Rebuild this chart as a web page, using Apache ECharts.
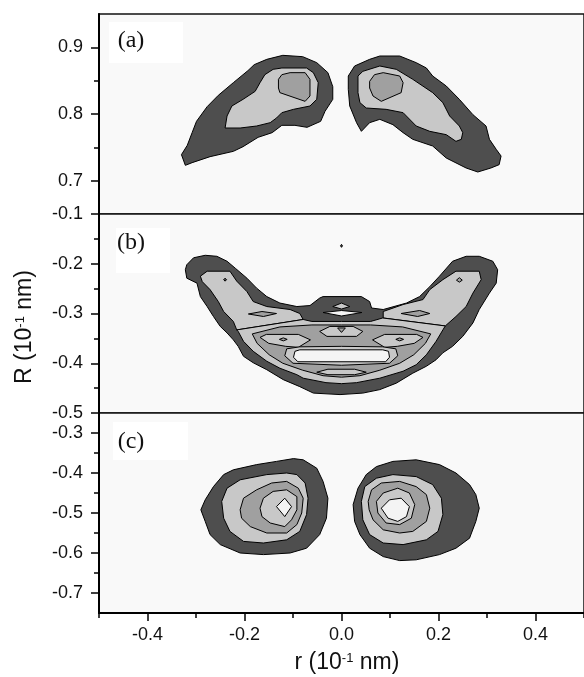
<!DOCTYPE html>
<html>
<head>
<meta charset="utf-8">
<title>Contour panels (a)(b)(c)</title>
<script src="https://cdn.jsdelivr.net/npm/echarts@6/dist/echarts.min.js"></script>
<style>
    html, body { margin: 0; padding: 0; background: #fff; }
    #main { width: 584px; height: 677px; }
</style>
</head>
<body>
<div id="main"></div>
<script>
// axis ticks
var rMajor = [-0.4, -0.2, 0, 0.2, 0.4];
var rMinor = [-0.5, -0.3, -0.1, 0.1, 0.3, 0.5];
var aMajor = [0.7, 0.8, 0.9];
var aMinor = [0.75, 0.85];
var bMajor = [-0.5, -0.4, -0.3, -0.2, -0.1];
var bMinor = [-0.45, -0.35, -0.25, -0.15];
var cMajor = [-0.7, -0.6, -0.5, -0.4, -0.3];
var cMinor = [-0.65, -0.55, -0.45, -0.35];

// contour fill per level (outer -> inner)
var levelFill = ['#4e4e4e', '#c8c8c8', '#a0a0a0', '#c8c8c8', '#f4f4f4'];

// ---- panel (a): contour outlines [r, R]
var aLeftL1 = [[-0.322,0.723],[-0.330,0.739],[-0.318,0.753],[-0.308,0.772],[-0.299,0.789],[-0.277,0.811],[-0.254,0.828],[-0.223,0.847],[-0.193,0.865],[-0.180,0.874],[-0.154,0.882],[-0.121,0.888],[-0.080,0.886],[-0.051,0.877],[-0.028,0.862],[-0.018,0.841],[-0.018,0.822],[-0.034,0.804],[-0.043,0.789],[-0.071,0.780],[-0.096,0.783],[-0.123,0.783],[-0.143,0.772],[-0.172,0.765],[-0.203,0.751],[-0.223,0.744],[-0.271,0.736],[-0.308,0.727]];
var aLeftL2 = [[-0.240,0.779],[-0.236,0.797],[-0.226,0.812],[-0.203,0.822],[-0.178,0.834],[-0.168,0.847],[-0.158,0.859],[-0.141,0.867],[-0.123,0.869],[-0.072,0.869],[-0.058,0.862],[-0.048,0.847],[-0.051,0.822],[-0.065,0.812],[-0.099,0.807],[-0.123,0.802],[-0.134,0.794],[-0.147,0.787],[-0.175,0.782],[-0.209,0.779]];
var aLeftL3 = [[-0.130,0.852],[-0.123,0.859],[-0.106,0.862],[-0.075,0.862],[-0.065,0.852],[-0.065,0.827],[-0.075,0.819],[-0.127,0.832],[-0.130,0.839]];
var aRightL1 = [[0.014,0.857],[0.027,0.872],[0.058,0.882],[0.079,0.887],[0.120,0.887],[0.154,0.877],[0.175,0.869],[0.188,0.857],[0.216,0.842],[0.243,0.822],[0.271,0.799],[0.298,0.782],[0.305,0.762],[0.319,0.747],[0.329,0.737],[0.325,0.724],[0.308,0.719],[0.281,0.713],[0.257,0.719],[0.216,0.734],[0.188,0.752],[0.147,0.762],[0.127,0.772],[0.106,0.784],[0.079,0.792],[0.058,0.787],[0.041,0.774],[0.031,0.787],[0.017,0.812],[0.014,0.837]];
var aRightL2 = [[0.034,0.857],[0.044,0.864],[0.079,0.872],[0.113,0.867],[0.147,0.852],[0.188,0.832],[0.209,0.817],[0.223,0.797],[0.243,0.782],[0.250,0.772],[0.247,0.762],[0.236,0.759],[0.216,0.769],[0.182,0.774],[0.154,0.782],[0.127,0.802],[0.092,0.807],[0.051,0.809],[0.038,0.817],[0.034,0.832]];
var aRightL3 = [[0.058,0.849],[0.068,0.859],[0.086,0.862],[0.120,0.857],[0.127,0.847],[0.123,0.832],[0.082,0.819],[0.065,0.827],[0.058,0.839]];

// ---- panel (b)
var bL1 = [[-0.322,-0.212],[-0.319,-0.202],[-0.305,-0.188],[-0.281,-0.183],[-0.257,-0.185],[-0.236,-0.195],[-0.219,-0.209],[-0.195,-0.229],[-0.175,-0.249],[-0.154,-0.266],[-0.127,-0.279],[-0.092,-0.286],[-0.065,-0.284],[-0.045,-0.269],[-0.038,-0.266],[0.041,-0.266],[0.058,-0.276],[0.062,-0.289],[0.086,-0.292],[0.134,-0.279],[0.161,-0.266],[0.182,-0.246],[0.202,-0.225],[0.229,-0.195],[0.257,-0.185],[0.284,-0.185],[0.312,-0.195],[0.322,-0.212],[0.319,-0.239],[0.305,-0.259],[0.284,-0.292],[0.271,-0.319],[0.250,-0.346],[0.229,-0.366],[0.209,-0.379],[0.195,-0.393],[0.175,-0.406],[0.147,-0.420],[0.113,-0.440],[0.079,-0.453],[0.044,-0.460],[-0.003,-0.463],[-0.058,-0.460],[-0.086,-0.447],[-0.120,-0.433],[-0.154,-0.413],[-0.182,-0.399],[-0.202,-0.386],[-0.213,-0.366],[-0.223,-0.353],[-0.236,-0.339],[-0.250,-0.326],[-0.264,-0.306],[-0.277,-0.286],[-0.291,-0.266],[-0.298,-0.239],[-0.319,-0.229]];
var bTopDot = [[-0.002,-0.164],[0,-0.161],[0.002,-0.164],[0,-0.167]];
var bLeftArm = [[-0.291,-0.225],[-0.277,-0.215],[-0.230,-0.215],[-0.216,-0.235],[-0.195,-0.256],[-0.182,-0.276],[-0.154,-0.286],[-0.106,-0.292],[-0.086,-0.300],[-0.079,-0.312],[-0.216,-0.333],[-0.223,-0.316],[-0.243,-0.296],[-0.254,-0.276],[-0.271,-0.252],[-0.287,-0.236]];
var bRightArm = [[0.086,-0.296],[0.127,-0.282],[0.168,-0.272],[0.182,-0.252],[0.209,-0.232],[0.236,-0.215],[0.284,-0.215],[0.288,-0.232],[0.271,-0.259],[0.257,-0.286],[0.236,-0.306],[0.214,-0.325],[0.086,-0.309]];
var bBowl = [[-0.216,-0.333],[-0.079,-0.312],[-0.061,-0.316],[0,-0.316],[0.060,-0.316],[0.085,-0.309],[0.214,-0.325],[0.209,-0.333],[0.195,-0.356],[0.175,-0.383],[0.154,-0.403],[0.127,-0.416],[0.079,-0.430],[0.031,-0.439],[0,-0.441],[-0.032,-0.439],[-0.079,-0.430],[-0.092,-0.423],[-0.127,-0.410],[-0.154,-0.396],[-0.182,-0.376],[-0.202,-0.356],[-0.213,-0.336]];
var bHumpDiamond = [[-0.018,-0.286],[0,-0.279],[0.017,-0.286],[0,-0.291]];
var bHumpLens = [[-0.038,-0.298],[0,-0.294],[0.042,-0.298],[0,-0.305]];
var bLeftArmDiamond = [[-0.192,-0.301],[-0.164,-0.296],[-0.134,-0.300],[-0.161,-0.306]];
var bRightArmDiamond = [[0.123,-0.300],[0.161,-0.294],[0.182,-0.300],[0.157,-0.306]];
var bLeftArmDot = [[-0.243,-0.232],[-0.240,-0.229],[-0.237,-0.232],[-0.240,-0.235]];
var bRightArmDot = [[0.237,-0.233],[0.243,-0.228],[0.249,-0.233],[0.243,-0.237]];
var bL3 = [[-0.184,-0.341],[-0.127,-0.327],[-0.061,-0.323],[0,-0.323],[0.060,-0.323],[0.126,-0.327],[0.184,-0.341],[0.173,-0.360],[0.149,-0.383],[0.120,-0.400],[0.079,-0.414],[0.038,-0.425],[0,-0.428],[-0.038,-0.425],[-0.080,-0.414],[-0.121,-0.400],[-0.149,-0.383],[-0.174,-0.360]];
var bTopTrap = [[-0.045,-0.336],[-0.024,-0.326],[0.024,-0.326],[0.044,-0.336],[0.031,-0.346],[-0.030,-0.346]];
var bTopTri = [[-0.008,-0.329],[0.008,-0.329],[0,-0.338]];
var bRightWing = [[0.064,-0.353],[0.089,-0.342],[0.155,-0.342],[0.168,-0.348],[0.150,-0.360],[0.115,-0.366],[0.089,-0.368]];
var bLeftWing = [[-0.064,-0.353],[-0.089,-0.342],[-0.155,-0.342],[-0.168,-0.348],[-0.150,-0.360],[-0.115,-0.366],[-0.089,-0.368]];
var bRightWingDot = [[0.112,-0.352],[0.120,-0.349],[0.128,-0.352],[0.120,-0.355]];
var bLeftWingDot = [[-0.128,-0.352],[-0.120,-0.349],[-0.112,-0.352],[-0.120,-0.355]];
var bBarBand = [[-0.113,-0.371],[-0.086,-0.367],[0,-0.366],[0.085,-0.367],[0.112,-0.371],[0.116,-0.385],[0.099,-0.400],[0,-0.404],[-0.100,-0.400],[-0.117,-0.385]];
var bBar = [[-0.096,-0.376],[-0.086,-0.373],[0.085,-0.373],[0.097,-0.376],[0.099,-0.388],[0.091,-0.397],[-0.090,-0.397],[-0.099,-0.388]];
var bBottomEllipse = [[-0.051,-0.418],[-0.028,-0.412],[0.027,-0.412],[0.051,-0.418],[0.027,-0.423],[-0.028,-0.423]];

// ---- panel (c)
var cLeftL1 = [[-0.290,-0.492],[-0.281,-0.467],[-0.264,-0.434],[-0.243,-0.404],[-0.223,-0.392],[-0.175,-0.379],[-0.134,-0.371],[-0.099,-0.364],[-0.079,-0.367],[-0.051,-0.388],[-0.038,-0.421],[-0.028,-0.463],[-0.031,-0.513],[-0.045,-0.554],[-0.072,-0.588],[-0.106,-0.600],[-0.161,-0.604],[-0.209,-0.600],[-0.250,-0.579],[-0.271,-0.554],[-0.281,-0.521]];
var cLeftL2 = [[-0.247,-0.471],[-0.236,-0.438],[-0.209,-0.417],[-0.154,-0.404],[-0.113,-0.400],[-0.092,-0.404],[-0.075,-0.425],[-0.069,-0.463],[-0.072,-0.504],[-0.086,-0.546],[-0.113,-0.567],[-0.161,-0.575],[-0.202,-0.571],[-0.230,-0.546],[-0.243,-0.513]];
var cLeftL3 = [[-0.209,-0.492],[-0.202,-0.463],[-0.175,-0.442],[-0.144,-0.425],[-0.113,-0.421],[-0.089,-0.438],[-0.079,-0.463],[-0.082,-0.500],[-0.092,-0.529],[-0.113,-0.550],[-0.154,-0.550],[-0.188,-0.534],[-0.206,-0.513]];
var cLeftL4 = [[-0.168,-0.488],[-0.161,-0.463],[-0.141,-0.446],[-0.113,-0.442],[-0.092,-0.459],[-0.092,-0.492],[-0.103,-0.517],[-0.117,-0.534],[-0.147,-0.525],[-0.164,-0.509]];
var cLeftL5 = [[-0.134,-0.484],[-0.117,-0.463],[-0.103,-0.484],[-0.117,-0.509]];
var cRightL1 = [[0.024,-0.479],[0.034,-0.438],[0.051,-0.404],[0.072,-0.384],[0.106,-0.371],[0.154,-0.367],[0.202,-0.379],[0.236,-0.400],[0.264,-0.429],[0.277,-0.454],[0.284,-0.488],[0.277,-0.521],[0.264,-0.563],[0.236,-0.588],[0.202,-0.604],[0.154,-0.617],[0.120,-0.619],[0.086,-0.609],[0.058,-0.588],[0.038,-0.554],[0.027,-0.521]];
var cRightL2 = [[0.041,-0.471],[0.048,-0.434],[0.072,-0.413],[0.106,-0.404],[0.154,-0.409],[0.188,-0.429],[0.206,-0.463],[0.209,-0.504],[0.199,-0.546],[0.175,-0.567],[0.127,-0.579],[0.086,-0.575],[0.058,-0.554],[0.044,-0.517]];
var cRightL3 = [[0.055,-0.471],[0.062,-0.442],[0.082,-0.425],[0.120,-0.421],[0.154,-0.434],[0.175,-0.454],[0.182,-0.488],[0.175,-0.521],[0.147,-0.546],[0.120,-0.550],[0.086,-0.542],[0.065,-0.517],[0.057,-0.492]];
var cRightL4 = [[0.072,-0.471],[0.086,-0.450],[0.116,-0.438],[0.140,-0.450],[0.151,-0.479],[0.144,-0.513],[0.120,-0.529],[0.092,-0.525],[0.075,-0.500]];
var cRightL5 = [[0.082,-0.488],[0.099,-0.467],[0.123,-0.463],[0.140,-0.484],[0.134,-0.509],[0.116,-0.521],[0.096,-0.513]];

var panelA = [[0, aLeftL1], [1, aLeftL2], [2, aLeftL3], [0, aRightL1], [1, aRightL2], [2, aRightL3]];
var panelB = [[0, bL1], [0, bTopDot], [1, bLeftArm], [1, bRightArm], [1, bBowl], [1, bHumpDiamond], [4, bHumpLens],
    [2, bLeftArmDiamond], [2, bRightArmDiamond], [0, bLeftArmDot], [2, bRightArmDot], [2, bL3], [3, bTopTrap], [2, bTopTri],
    [3, bRightWing], [3, bLeftWing], [2, bRightWingDot], [2, bLeftWingDot], [3, bBarBand], [4, bBar], [3, bBottomEllipse]];
var panelC = [[0, cLeftL1], [1, cLeftL2], [2, cLeftL3], [3, cLeftL4], [4, cLeftL5],
    [0, cRightL1], [1, cRightL2], [2, cRightL3], [3, cRightL4], [4, cRightL5]];

var chart = echarts.init(document.getElementById('main'));
var tickFont = { fontSize: 18, fontFamily: '"Liberation Sans", Arial', color: '#111' };
var fmt = function (v) { return (+v).toFixed(1); };

function contourSeries(shapes, xi, yi) {
    return {
        type: 'custom',
        xAxisIndex: xi,
        yAxisIndex: yi,
        silent: true,
        animation: false,
        data: shapes.map(function (s, i) { return [i, i]; }),
        renderItem: function (params, api) {
            var s = shapes[params.dataIndex];
            return {
                type: 'polygon',
                z2: params.dataIndex,
                shape: { points: s[1].map(function (p) { return api.coord(p); }) },
                style: { fill: levelFill[s[0]], stroke: '#000', lineWidth: 1, lineJoin: 'round' }
            };
        }
    };
}

function yMajor(grid, min, max, ticks) {
    return {
        type: 'value', gridIndex: grid, position: 'left', min: min, max: max,
        splitLine: { show: false },
        axisLine: { show: true, onZero: false, lineStyle: { color: '#000', width: 2 } },
        axisTick: { show: true, inside: false, length: 8, customValues: ticks, lineStyle: { color: '#000', width: 1.5 } },
        axisLabel: Object.assign({ customValues: ticks, margin: 16, formatter: fmt }, tickFont)
    };
}
function yMinor(grid, min, max, ticks) {
    return {
        type: 'value', gridIndex: grid, position: 'left', min: min, max: max,
        splitLine: { show: false },
        axisLine: { show: false, onZero: false },
        axisTick: { show: true, inside: false, length: 5, customValues: ticks, lineStyle: { color: '#000', width: 1.5 } },
        axisLabel: { show: false }
    };
}

var gridBox = { left: 99, width: 487, show: true, backgroundColor: '#f9f9f9', borderColor: '#111', borderWidth: 1.5 };

chart.setOption({
    animation: false,
    grid: [
        Object.assign({ top: 14, height: 200 }, gridBox),
        Object.assign({ top: 214, height: 199 }, gridBox),
        Object.assign({ top: 413, height: 200 }, gridBox)
    ],
    xAxis: [
        { type: 'value', gridIndex: 0, min: -0.5, max: 0.5, show: false },
        { type: 'value', gridIndex: 1, min: -0.5, max: 0.5, show: false },
        {
            type: 'value', gridIndex: 2, position: 'bottom', min: -0.5, max: 0.5,
            splitLine: { show: false },
            axisLine: { show: true, onZero: false, lineStyle: { color: '#000', width: 2 } },
            axisTick: { show: true, length: 8, customValues: rMajor, lineStyle: { color: '#000', width: 1.5 } },
            axisLabel: Object.assign({ customValues: rMajor, margin: 13, formatter: fmt }, tickFont)
        },
        {
            type: 'value', gridIndex: 2, position: 'bottom', min: -0.5, max: 0.5,
            splitLine: { show: false },
            axisLine: { show: false, onZero: false },
            axisTick: { show: true, length: 5, customValues: rMinor, lineStyle: { color: '#000', width: 1.5 } },
            axisLabel: { show: false }
        }
    ],
    yAxis: [
        yMajor(0, 0.65, 0.95, aMajor), yMinor(0, 0.65, 0.95, aMinor),
        yMajor(1, -0.5, -0.1, bMajor), yMinor(1, -0.5, -0.1, bMinor),
        yMajor(2, -0.75, -0.25, cMajor), yMinor(2, -0.75, -0.25, cMinor)
    ],
    graphic: [
        { type: 'rect', z: 10, shape: { x: 109, y: 22, width: 74, height: 41 }, style: { fill: '#fff' } },
        { type: 'rect', z: 10, shape: { x: 116, y: 228, width: 54, height: 45 }, style: { fill: '#fff' } },
        { type: 'rect', z: 10, shape: { x: 113, y: 422, width: 75, height: 38 }, style: { fill: '#fff' } },
        { type: 'text', z: 11, x: 131, y: 41, style: { text: '(a)', fontSize: 24, fontFamily: '"Liberation Serif", "Times New Roman"', fill: '#111', align: 'center', verticalAlign: 'middle' } },
        { type: 'text', z: 11, x: 131, y: 243, style: { text: '(b)', fontSize: 24, fontFamily: '"Liberation Serif", "Times New Roman"', fill: '#111', align: 'center', verticalAlign: 'middle' } },
        { type: 'text', z: 11, x: 131, y: 442, style: { text: '(c)', fontSize: 24, fontFamily: '"Liberation Serif", "Times New Roman"', fill: '#111', align: 'center', verticalAlign: 'middle' } },
        {
            type: 'text', z: 11, x: 25, y: 327, rotation: Math.PI / 2,
            style: {
                text: 'R (10{sup|-1} nm)', fontSize: 23, fontFamily: '"Liberation Sans", Arial', fill: '#111',
                align: 'center', verticalAlign: 'middle',
                rich: { sup: { fontSize: 13, fontFamily: '"Liberation Sans", Arial', verticalAlign: 'top', fill: '#111' } }
            }
        },
        {
            type: 'text', z: 11, x: 347, y: 663,
            style: {
                text: 'r (10{sup|-1} nm)', fontSize: 23, fontFamily: '"Liberation Sans", Arial', fill: '#111',
                align: 'center', verticalAlign: 'middle',
                rich: { sup: { fontSize: 13, fontFamily: '"Liberation Sans", Arial', verticalAlign: 'top', fill: '#111' } }
            }
        }
    ],
    series: [
        contourSeries(panelA, 0, 0),
        contourSeries(panelB, 1, 2),
        contourSeries(panelC, 2, 4)
    ]
});
</script>
</body>
</html>
